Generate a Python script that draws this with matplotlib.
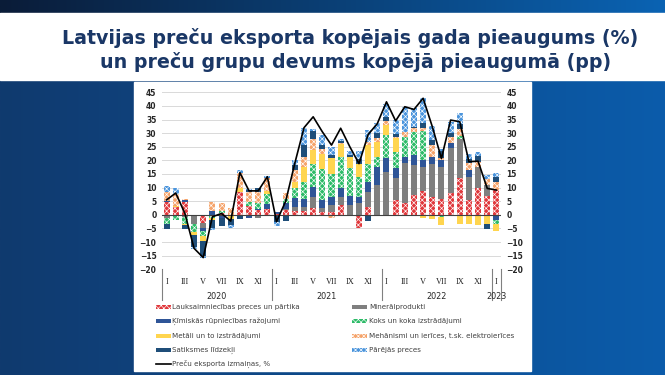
import numpy as np
import matplotlib.pyplot as plt
from matplotlib.colors import to_rgb
from matplotlib.patches import Rectangle
from matplotlib.lines import Line2D
import matplotlib.transforms as mtransforms

# monthly data, Jan 2020 .. Jan 2023 (pp contributions and total %)
months = ['I', 'II', 'III', 'IV', 'V', 'VI', 'VII', 'VIII', 'IX', 'X', 'XI', 'XII'] * 3 + ['I']
years = ['2020', '2021', '2022', '2023']

agri = [4.6, 3.0, 4.6, -0.5, -3.0, 0, 0.5, -0.5, 8.3, 3.4, 1.6, 2.1,
        0.3, 1.6, 1.4, 1.4, 2.6, 1.2, 1.0, 3.6, -0.5, -4.8, 3.0, 0,
        0, 5.4, 4.2, 7.3, 8.7, 6.7, 6.0, 8.0, 13.5, 5.5, 10.0, 7.0, 9.0]
mineral = [-1.0, 0, -0.8, -3.0, -1.8, 0, 0, 0, 0, 0, -1.0, -0.4,
           -0.5, 0.5, 1.6, 1.6, 4.1, 1.2, 2.5, 3.1, 3.5, 4.2, 5.5, 11.0,
           15.8, 8.0, 14.7, 11.0, 9.0, 11.8, 11.7, 16.5, 14.5, 8.5, 7.5, 4.0, 0]
chem = [0.3, 0, 0.8, 0, -1.2, 1.5, -1.2, 0, 0, -1.2, 0.5, 1.8,
        0.8, 2.1, 3.1, 3.0, 3.6, 3.0, 3.0, 3.0, 3.3, 2.4, 3.7, 6.7,
        4.9, 3.7, 2.4, 3.7, 2.4, 2.7, 2.5, 1.8, 0, 2.5, 0, 0, -1.8]
wood = [-2.3, -1.9, -2.5, -2.7, -1.6, -1.2, 0.9, 0, 0, 1.4, 2.3, 3.6,
        0, 1.8, 3.9, 6.2, 8.2, 11.6, 8.5, 11.7, 10.5, 7.3, 6.5, 3.7,
        8.6, 6.1, 7.3, 8.6, 10.7, 0, -0.8, 0, 1.0, 0, 0, 0, -1.5]
metal = [0, 0.3, -0.6, -1.2, -2.1, -0.8, 0, -1.2, 1.4, 0, 0, 1.2,
         0, 0, 2.2, 5.5, 5.3, 5.5, 6.0, 4.5, 4.0, 4.9, 7.1, 5.5,
         3.7, 4.9, 0, 0, -1.0, -1.5, -2.8, -0.5, -3.5, -3.2, -3.6, -3.3, -2.8]
mach = [3.6, 4.5, 0.3, 0, 0, 3.2, 2.8, 2.6, 5.8, 3.7, 4.1, 4.7,
        0, 1.9, 4.3, 3.6, 3.9, 1.8, -1.0, 0.3, 0, 0, 0.9, 1.2,
        1.3, 0.5, 1.8, 1.2, 1.2, 4.5, 0.8, 2.4, 2.5, 2.5, 2.0, 2.0, 3.0]
transport = [-1.8, 0, -1.3, -4.3, -5.5, -2.8, -2.8, -2.0, -1.5, 0.8, 1.2, 0,
             -2.0, -2.2, 1.8, 4.3, 3.2, 1.2, 0.8, 0.8, 0.8, 1.6, -2.2, 1.8,
             1.5, 1.2, 0, 0.5, 1.6, 1.8, 2.5, 1.2, 2.0, 1.5, 2.0, -2.0, 1.8]
other = [2.1, 2.2, 0, -0.8, -0.6, -0.6, 0.3, -1.0, 0.9, 0.3, 0.3, 1.0,
         -1.5, 0, 1.8, 6.4, 0.8, 3.9, 3.1, 1.0, 1.5, 2.9, 4.5, 3.7,
         5.0, 4.9, 9.2, 6.8, 9.4, 5.3, 0.8, 4.3, 4.0, 2.0, 1.5, 1.5, 1.5]
total = [5.5, 8.0, 0.5, -12.3, -15.7, -0.7, 0.5, -2.3, 15.5, 8.8, 8.8, 14.0,
         -2.5, 5.0, 19.0, 32.0, 36.0, 30.5, 25.6, 31.8, 25.0, 18.8, 29.5, 33.5,
         41.5, 34.5, 39.7, 38.7, 42.8, 32.4, 20.7, 34.8, 34.2, 19.5, 19.7, 9.7, 9.1]

names = ['Lauksaimniecības preces un pārtika', 'Minerālprodukti',
         'Ķīmiskās rūpniecības ražojumi', 'Koks un koka izstrādājumi',
         'Metāli un to izstrādājumi', 'Mehānismi un ierīces, t.sk. elektroierīces',
         'Satiksmes līdzekļi', 'Pārējās preces']
line_name = 'Preču eksporta izmaiņas, %'

colors = ['#e0383c', '#7f7f7f', '#2f5597', '#2dbb68', '#ffd54f', '#f5a36a', '#1f4e79', '#4a94dc']
hatches = ['xxxxxx', None, None, 'xxxxxx', None, 'xxxxxx', None, 'xxxxxx']

plt.rcParams['hatch.linewidth'] = 0.45

W, H = 665, 375
fig = plt.figure(figsize=(W / 100, H / 100), dpi=100)

# slide background
bg = fig.add_axes([0, 0, 1, 1], zorder=0)


def hgrad(c1, c2, n=256):
    a, b = np.array(to_rgb(c1)), np.array(to_rgb(c2))
    t = np.linspace(0, 1, n)[:, None]
    return (a + (b - a) * t)[None, :, :]


bg.imshow(hgrad('#0a1c38', '#0b63b3'), extent=(0, W, 13, 0), aspect='auto')
bg.imshow(hgrad('#103a6e', '#0b5cab'), extent=(0, W, H, 80), aspect='auto')
bg.add_patch(Rectangle((0, 13), W, 67, color='white'))
bg.add_patch(Rectangle((134, 82), 397, 289, color='white'))
bg.set_xlim(0, W)
bg.set_ylim(H, 0)
bg.axis('off')

title_kw = dict(ha='center', va='center', fontsize=13.7, weight='bold', color='#1a3766')
bg.text(350, 38, 'Latvijas preču eksporta kopējais gada pieaugums (%)', **title_kw)
bg.text(356, 62, 'un preču grupu devums kopējā pieaugumā (pp)', **title_kw)

# chart
ax = fig.add_axes([162 / W, 1 - 269.3 / H, (501 - 162) / W, (269.3 - 92.3) / H], zorder=1)
ax.set_facecolor('none')
x = np.arange(len(total))
series = [agri, mineral, chem, wood, metal, mach, transport, other]
pos_base = np.zeros(len(x))
neg_base = np.zeros(len(x))
for vals, c, h in zip(series, colors, hatches):
    v = np.array(vals, dtype=float)
    bottom = np.where(v >= 0, pos_base, neg_base)
    ax.bar(x, v, 0.66, bottom=bottom, color=c, hatch=h,
           edgecolor='white' if h else c, linewidth=0, zorder=3)
    pos_base += np.clip(v, 0, None)
    neg_base += np.clip(v, None, 0)

ax.plot(x, total, color='black', lw=1.2, zorder=5)
ax.axhline(0, color='#404040', lw=0.8, zorder=4)

ax.set_xlim(-0.5, len(x) - 0.5)
ax.set_ylim(-20, 45)
ax.set_yticks(range(-20, 46, 5))
ax.grid(axis='y', color='#d9d9d9', lw=0.7, zorder=0)
for s in ax.spines.values():
    s.set_visible(False)
ax.tick_params(axis='y', length=0, labelsize=5.5, labelcolor='#262626',
               labelright=True, pad=4)
for t in ax.yaxis.get_major_ticks():
    t.label1.set_fontweight('bold')
    t.label2.set_fontweight('bold')

tick_pos = [i for i in x if i % 12 in (0, 2, 4, 6, 8, 10)]
ax.set_xticks(tick_pos)
ax.set_xticklabels([months[i] for i in tick_pos], fontfamily='Liberation Serif',
                   fontsize=6, color='#262626')
ax.tick_params(axis='x', length=0, pad=6)

trans = mtransforms.blended_transform_factory(ax.transData, ax.transAxes)
for k, yr in enumerate(years):
    start = 12 * k
    end = min(12 * k + 11, len(x) - 1)
    ax.text((start + end) / 2, -0.152, yr, transform=trans, ha='center', va='center',
            fontsize=5.8, color='#262626')
for b in [-0.5, 11.5, 23.5, 35.5, 36.5]:
    ax.plot([b, b], [0, -0.175], transform=trans, color='#808080', lw=0.8, clip_on=False)

# legend drawn in slide pixel coordinates
rows = [306.7, 321, 335.7, 350, 364.3]
col1 = [0, 2, 4, 6]
col2 = [1, 3, 5, 7]
leg_kw = dict(fontsize=5.1, color='#404040', va='center', ha='left')
for r, idx in enumerate(col1):
    bg.add_patch(Rectangle((156, rows[r] - 1.8), 15, 3.6, facecolor=colors[idx],
                           hatch=hatches[idx], edgecolor='white' if hatches[idx] else colors[idx],
                           linewidth=0))
    bg.text(172, rows[r], names[idx], **leg_kw)
for r, idx in enumerate(col2):
    bg.add_patch(Rectangle((352, rows[r] - 1.8), 15, 3.6, facecolor=colors[idx],
                           hatch=hatches[idx], edgecolor='white' if hatches[idx] else colors[idx],
                           linewidth=0))
    bg.text(369, rows[r], names[idx], **leg_kw)
bg.add_line(Line2D([156, 171], [rows[4], rows[4]], color='black', lw=1.2))
bg.text(172, rows[4], line_name, **leg_kw)

fig.savefig('out.png', dpi=100)
